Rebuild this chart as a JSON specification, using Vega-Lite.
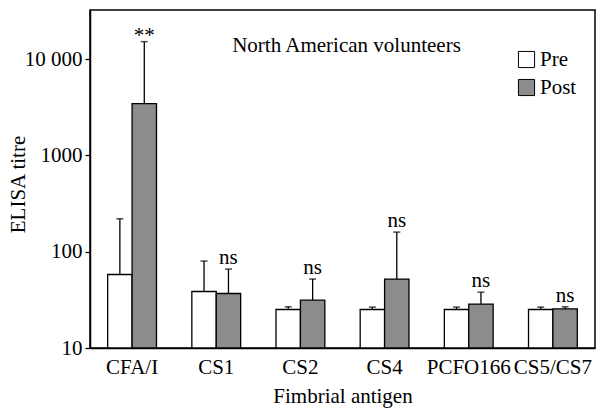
{
  "$schema": "https://vega.github.io/schema/vega-lite/v6.json",
  "width": 505,
  "height": 338,
  "autosize": {"type": "none"},
  "padding": {"left": 90, "top": 10, "right": 3, "bottom": 61},
  "config": {
    "font": "Liberation Serif",
    "view": {"stroke": "#000", "strokeWidth": 1.5},
    "axis": {"labelFont": "Liberation Serif", "titleFont": "Liberation Serif", "labelColor": "#000", "titleColor": "#000", "titleFontWeight": "normal", "domainColor": "#000", "tickColor": "#000", "grid": false}
  },
  "title": {"text": "North American volunteers", "font": "Liberation Serif", "fontSize": 21, "fontWeight": "normal", "color": "#000", "anchor": "middle", "orient": "top", "offset": -46, "dx": 4},
  "data": {"values": [
    {"antigen": "CFA/I", "time": "Pre", "titre": 58, "err": 220, "sig": ""},
    {"antigen": "CFA/I", "time": "Post", "titre": 3460, "err": 15200, "sig": "**"},
    {"antigen": "CS1", "time": "Pre", "titre": 38.6, "err": 80, "sig": ""},
    {"antigen": "CS1", "time": "Post", "titre": 36.8, "err": 66, "sig": "ns"},
    {"antigen": "CS2", "time": "Pre", "titre": 25.1, "err": 26.8, "sig": ""},
    {"antigen": "CS2", "time": "Post", "titre": 31.4, "err": 52, "sig": "ns"},
    {"antigen": "CS4", "time": "Pre", "titre": 25.1, "err": 26.6, "sig": ""},
    {"antigen": "CS4", "time": "Post", "titre": 52, "err": 160, "sig": "ns"},
    {"antigen": "PCFO166", "time": "Pre", "titre": 25.1, "err": 26.6, "sig": ""},
    {"antigen": "PCFO166", "time": "Post", "titre": 28.6, "err": 38, "sig": "ns"},
    {"antigen": "CS5/CS7", "time": "Pre", "titre": 25.1, "err": 26.6, "sig": ""},
    {"antigen": "CS5/CS7", "time": "Post", "titre": 25.5, "err": 26.8, "sig": "ns"}
  ]},
  "encoding": {
    "x": {"field": "antigen", "type": "nominal", "sort": null,
          "scale": {"paddingInner": 0.42, "paddingOuter": 0.21},
          "axis": {"title": "Fimbrial antigen", "labelAngle": 0, "labelFontSize": 21, "titleFontSize": 21, "ticks": false, "domain": true, "domainWidth": 1.5, "labelPadding": 8, "titlePadding": 8}},
    "xOffset": {"field": "time", "type": "nominal", "sort": ["Pre", "Post"], "scale": {"paddingInner": 0, "paddingOuter": 0}}
  },
  "layer": [
    {
      "mark": {"type": "rule", "color": "#000", "strokeWidth": 1.3},
      "encoding": {
        "y": {"field": "titre", "type": "quantitative"},
        "y2": {"field": "err"}
      }
    },
    {
      "mark": {"type": "tick", "color": "#000", "size": 7, "thickness": 1.5},
      "encoding": {
        "y": {"field": "err", "type": "quantitative"}
      }
    },
    {
      "mark": {"type": "bar", "stroke": "#000", "strokeWidth": 1.3},
      "encoding": {
        "y": {"field": "titre", "type": "quantitative",
              "scale": {"type": "log", "domain": [10, 32400], "nice": false},
              "axis": {"title": "ELISA titre", "values": [10, 100, 1000, 10000], "format": "d",
                       "labelExpr": "datum.value == 10000 ? '10 000' : datum.label",
                       "labelFontSize": 21, "titleFontSize": 21, "tickSize": 5, "domainWidth": 1.5, "tickWidth": 1.3, "labelPadding": 3,
                       "titleX": -62, "titleY": 174}},
        "y2": {"datum": 10},
        "fill": {"field": "time", "type": "nominal", "sort": ["Pre", "Post"],
                 "scale": {"domain": ["Pre", "Post"], "range": ["#ffffff", "#8c8c8c"]},
                 "legend": {"title": null, "orient": "none", "legendX": 426, "legendY": 39,
                            "symbolType": "square", "symbolSize": 260, "symbolStrokeColor": "#000", "symbolStrokeWidth": 1,
                            "labelFont": "Liberation Serif", "labelFontSize": 21, "labelColor": "#000", "rowPadding": 6, "labelOffset": 3}}
      }
    },
    {
      "transform": [{"filter": "datum.sig == 'ns'"}],
      "mark": {"type": "text", "fontSize": 21, "baseline": "alphabetic", "dy": -5, "font": "Liberation Serif", "color": "#000"},
      "encoding": {
        "y": {"field": "err", "type": "quantitative"},
        "text": {"field": "sig"}
      }
    },
    {
      "transform": [{"filter": "datum.sig == '**'"}],
      "mark": {"type": "text", "fontSize": 21, "baseline": "alphabetic", "dy": 0, "font": "Liberation Serif", "color": "#000"},
      "encoding": {
        "y": {"field": "err", "type": "quantitative"},
        "text": {"field": "sig"}
      }
    }
  ]
}
